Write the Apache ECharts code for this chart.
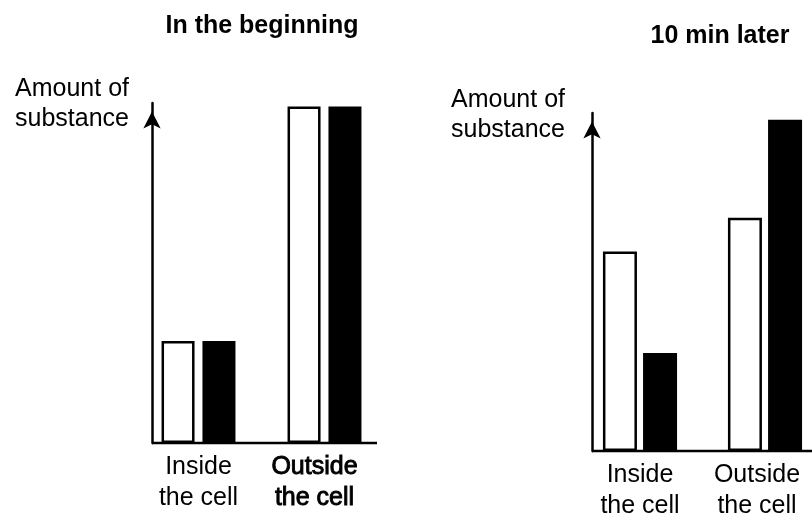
<!DOCTYPE html>
<html>
<head>
<meta charset="utf-8">
<script src="https://cdn.jsdelivr.net/npm/echarts@6/dist/echarts.min.js"></script>
<style>
  html, body { margin: 0; padding: 0; background: #fff; overflow: hidden; }
  /* the right panel's last bar runs up to the edge, so the drawing area is a bit wider than the view */
  #chart { width: 840px; height: 525px; }
</style>
</head>
<body>
<div id="chart"></div>
<script>
// Categories on each horizontal axis
const categories = ['Inside\nthe cell', 'Outside\nthe cell'];
const panelTitles = ['In the beginning', '10 min later'];
const yAxisName = 'Amount of\nsubstance';

// Amount of the two substances (white bars, black bars) at the start
const beginWhite = [3.0, 9.9];
const beginBlack = [3.0, 9.9];
// ... and ten minutes later
const laterWhite = [5.9, 6.9];
const laterBlack = [2.9, 9.8];

const yMax = 10;

const FONT = '"Liberation Sans", Arial, Helvetica, sans-serif';

// Layout of the two panels
const panels = [
  { left: 135.5, width: 252, top: 103, bottom: 82, axisX: 152, lineEnd: 377,
    white: beginWhite, black: beginBlack, barWidth: 33, barGap: '24%',
    titleX: 262, titleY: 26, nameX: 72, nameY: 104, boldOutside: true },
  { left: 577.5, width: 250, top: 113, bottom: 74, axisX: 592, lineEnd: 840,
    white: laterWhite, black: laterBlack, barWidth: 34, barGap: '18%',
    titleX: 720, titleY: 36, nameX: 508, nameY: 115, boldOutside: false }
];

const chart = echarts.init(document.getElementById('chart'), null, { renderer: 'canvas' });

const grid = [], xAxis = [], yAxis = [], series = [];

panels.forEach(function (p, i) {
  grid.push({ left: p.left, width: p.width, top: p.top, bottom: p.bottom, containLabel: false });
  xAxis.push({
    type: 'category',
    gridIndex: i,
    data: categories,
    axisLine: { show: false },
    axisTick: { show: false },
    axisLabel: {
      margin: 9,
      interval: 0,
      formatter: function (value, idx) {
        const lines = value.split('\n');
        const key = idx === 0 ? 'a' : (p.boldOutside ? 'c' : 'b');
        return lines.map(function (l) { return '{' + key + '|' + l + '}'; }).join('\n');
      },
      rich: {
        a: { fontFamily: FONT, fontSize: 25, lineHeight: 31, color: '#000' },
        b: { fontFamily: FONT, fontSize: 25, lineHeight: 31, color: '#000', padding: [0, 16, 0, 0] },
        c: { fontFamily: FONT, fontSize: 25, lineHeight: 31, color: '#000', padding: [0, 20, 0, 0],
             textBorderColor: '#000', textBorderWidth: 0.9 }
      }
    }
  });
  yAxis.push({
    type: 'value',
    gridIndex: i,
    min: 0,
    max: yMax,
    offset: p.left - p.axisX,
    axisLine: {
      show: true,
      onZero: false,
      symbol: ['none', 'arrow'],
      symbolSize: [13, 17],
      symbolOffset: [0, -8.5],
      lineStyle: { color: '#000', width: 2.5 }
    },
    axisTick: { show: false },
    axisLabel: { show: false },
    splitLine: { show: false }
  });
  series.push({
    type: 'bar',
    xAxisIndex: i,
    yAxisIndex: i,
    data: p.white,
    barWidth: p.barWidth,
    barGap: p.barGap,
    itemStyle: { color: '#fff', borderColor: '#000', borderWidth: 2.5 },
    silent: true
  });
  series.push({
    type: 'bar',
    xAxisIndex: i,
    yAxisIndex: i,
    data: p.black,
    barWidth: p.barWidth,
    barGap: p.barGap,
    itemStyle: { color: '#000' },
    silent: true
  });
});

chart.setOption({
  backgroundColor: '#fff',
  animation: false,
  grid: grid,
  xAxis: xAxis,
  yAxis: yAxis,
  series: series
});

// Titles, axis names and the horizontal baselines
const graphics = [];
panels.forEach(function (p, i) {
  const y0 = chart.convertToPixel({ yAxisIndex: i }, 0);
  graphics.push({
    type: 'line',
    shape: { x1: p.axisX, y1: y0, x2: p.lineEnd, y2: y0 },
    style: { stroke: '#000', lineWidth: 2.5 },
    z: 1
  });
  graphics.push({
    type: 'text',
    x: p.titleX, y: p.titleY,
    style: { text: panelTitles[i], fill: '#000', font: 'bold 25px ' + FONT,
             textAlign: 'center', textVerticalAlign: 'middle' }
  });
  graphics.push({
    type: 'text',
    x: p.nameX, y: p.nameY,
    style: { text: yAxisName, fill: '#000', font: '25px ' + FONT, lineHeight: 30,
             textAlign: 'center', textVerticalAlign: 'middle' }
  });
});
chart.setOption({ graphic: graphics });
</script>
</body>
</html>
